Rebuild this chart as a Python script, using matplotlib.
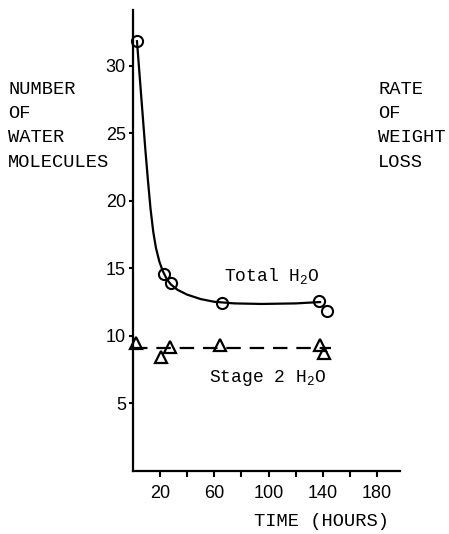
import matplotlib
matplotlib.use("Agg")
import matplotlib.pyplot as plt

plt.rcParams['mathtext.fontset'] = 'custom'
plt.rcParams['mathtext.rm'] = 'Liberation Mono'
plt.rcParams['mathtext.it'] = 'Liberation Mono'

# measured points (hours, number of water molecules)
total_t = [3, 23, 28, 66, 137, 143]
total_n = [31.8, 14.6, 13.9, 12.4, 12.6, 11.85]

stage2_t = [2, 21, 27, 64, 138, 141]
stage2_n = [9.5, 8.4, 9.2, 9.3, 9.3, 8.7]

# hand drawn smooth curve through the total H2O points
curve_t = [3, 5, 7, 9, 11, 13, 15, 17, 19.5, 22, 25, 28, 33, 40, 50,
           60, 75, 95, 120, 138]
curve_n = [31.8, 29.2, 26.6, 24.0, 21.6, 19.4, 17.7, 16.5, 15.5, 14.8,
           14.2, 13.8, 13.4, 13.05, 12.72, 12.52, 12.4, 12.36, 12.4, 12.5]

# dashed line for stage 2
stage2_line_t = [0, 146]
stage2_line_n = [9.1, 9.1]

xtick_pos = [20, 40, 60, 80, 100, 120, 140, 160, 180]
xtick_lab = ['20', '', '60', '', '100', '', '140', '', '180']
ytick_pos = [5, 10, 15, 20, 25, 30]

mono = 'Liberation Mono'

fig = plt.figure(figsize=(4.49, 5.34), dpi=100)
ax = fig.add_axes([0.296, 0.118, 0.595, 0.863])

ax.plot(curve_t, curve_n, color='black', lw=1.6, clip_on=False,
        solid_joinstyle='round')
ax.plot(stage2_line_t, stage2_line_n, color='black', lw=1.6,
        dashes=(6.5, 4))
ax.plot(total_t, total_n, 'o', ms=8, mfc='none', mec='black', mew=1.5,
        clip_on=False)
ax.plot(stage2_t, stage2_n, '^', ms=8, mfc='none', mec='black', mew=1.6,
        clip_on=False)

ax.set_xlim(0, 197)
ax.set_ylim(0, 34.1)
ax.spines['top'].set_visible(False)
ax.spines['right'].set_visible(False)
ax.spines['left'].set_linewidth(1.6)
ax.spines['bottom'].set_linewidth(1.6)
ax.set_xticks(xtick_pos)
ax.set_xticklabels(xtick_lab, fontsize=13, family='Liberation Sans')
ax.set_yticks(ytick_pos)
ax.set_yticklabels([str(v) for v in ytick_pos], fontsize=13,
                   family='Liberation Sans')
ax.tick_params(axis='x', length=4, width=1.5, pad=6)
ax.tick_params(axis='y', length=3, width=1.5, pad=2)

ax.text(67, 14.4, 'Total H$_2$O', family=mono, fontsize=13,
        va='center', ha='left')
ax.text(56, 6.9, 'Stage 2 H$_2$O', family=mono, fontsize=13,
        va='center', ha='left')

fig.text(322 / 449, 1 - 521 / 534, 'TIME (HOURS)', family=mono,
         fontsize=13.5, ha='center', va='center')

left_lab = ['NUMBER', 'OF', 'WATER', 'MOLECULES']
right_lab = ['RATE', 'OF', 'WEIGHT', 'LOSS']
rows_y = [90, 114, 138, 162]
for lab, y in zip(left_lab, rows_y):
    fig.text(8 / 449, 1 - y / 534, lab, family=mono, fontsize=13.5,
             ha='left', va='center')
for lab, y in zip(right_lab, rows_y):
    fig.text(378 / 449, 1 - y / 534, lab, family=mono, fontsize=13.5,
             ha='left', va='center')

fig.savefig('out.png', dpi=100)
